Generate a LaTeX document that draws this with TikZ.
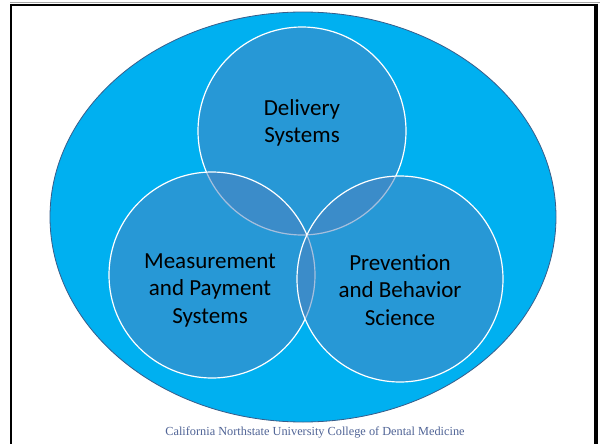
\documentclass[tikz,border=0pt]{standalone}
\usepackage{fontspec}
\setmainfont{Carlito}
\newfontfamily\footfont{Liberation Serif}
\definecolor{ellfill}{RGB}{0,176,240}
\definecolor{elldraw}{RGB}{56,93,138}
\definecolor{circfill}{RGB}{79,129,189}
\definecolor{footcol}{RGB}{80,100,150}
\begin{document}
\begin{tikzpicture}[x=1pt,y=-1pt,
  venn/.style={circle, draw=white, line width=1.2pt, fill=circfill, fill opacity=0.5, inner sep=0pt, minimum size=206pt},
  lbl/.style={align=center, text=black, font=\fontsize{23}{27.5}\selectfont, inner sep=0pt}]
\useasboundingbox (0,0) rectangle (600,444);
\fill[white] (0,0) rectangle (600,444);
% frame
\draw[gray!70, line width=1pt] (10,3) -- (600,3);
\draw[black, line width=2pt] (11,5) -- (597,5);
\draw[black, line width=2pt] (11,4) -- (11,444);
\draw[black, line width=3.5pt] (596,4) -- (596,444);
% big ellipse
\draw[fill=ellfill, draw=elldraw, line width=0.8pt] (303,217) ellipse [x radius=253, y radius=205];
% circles
\node[venn, minimum size=208pt] (top) at (302,131) {};
\node[venn] (left) at (212,275) {};
\node[venn] (right) at (400,279) {};
% labels
\node[lbl] (tlbl) at (302,123) {Delivery\\Systems};
\node[lbl] (llbl) at (210,290) {Measurement\\and Payment\\Systems};
\node[lbl] (rlbl) at (400,290) {Prevention\\and Behavior\\Science};
% footer
\node[text=footcol, font=\footfont\fontsize{12.3}{14}\selectfont, inner sep=0pt] (foot) at (315,432) {California Northstate University College of Dental Medicine};
\end{tikzpicture}
\end{document}
